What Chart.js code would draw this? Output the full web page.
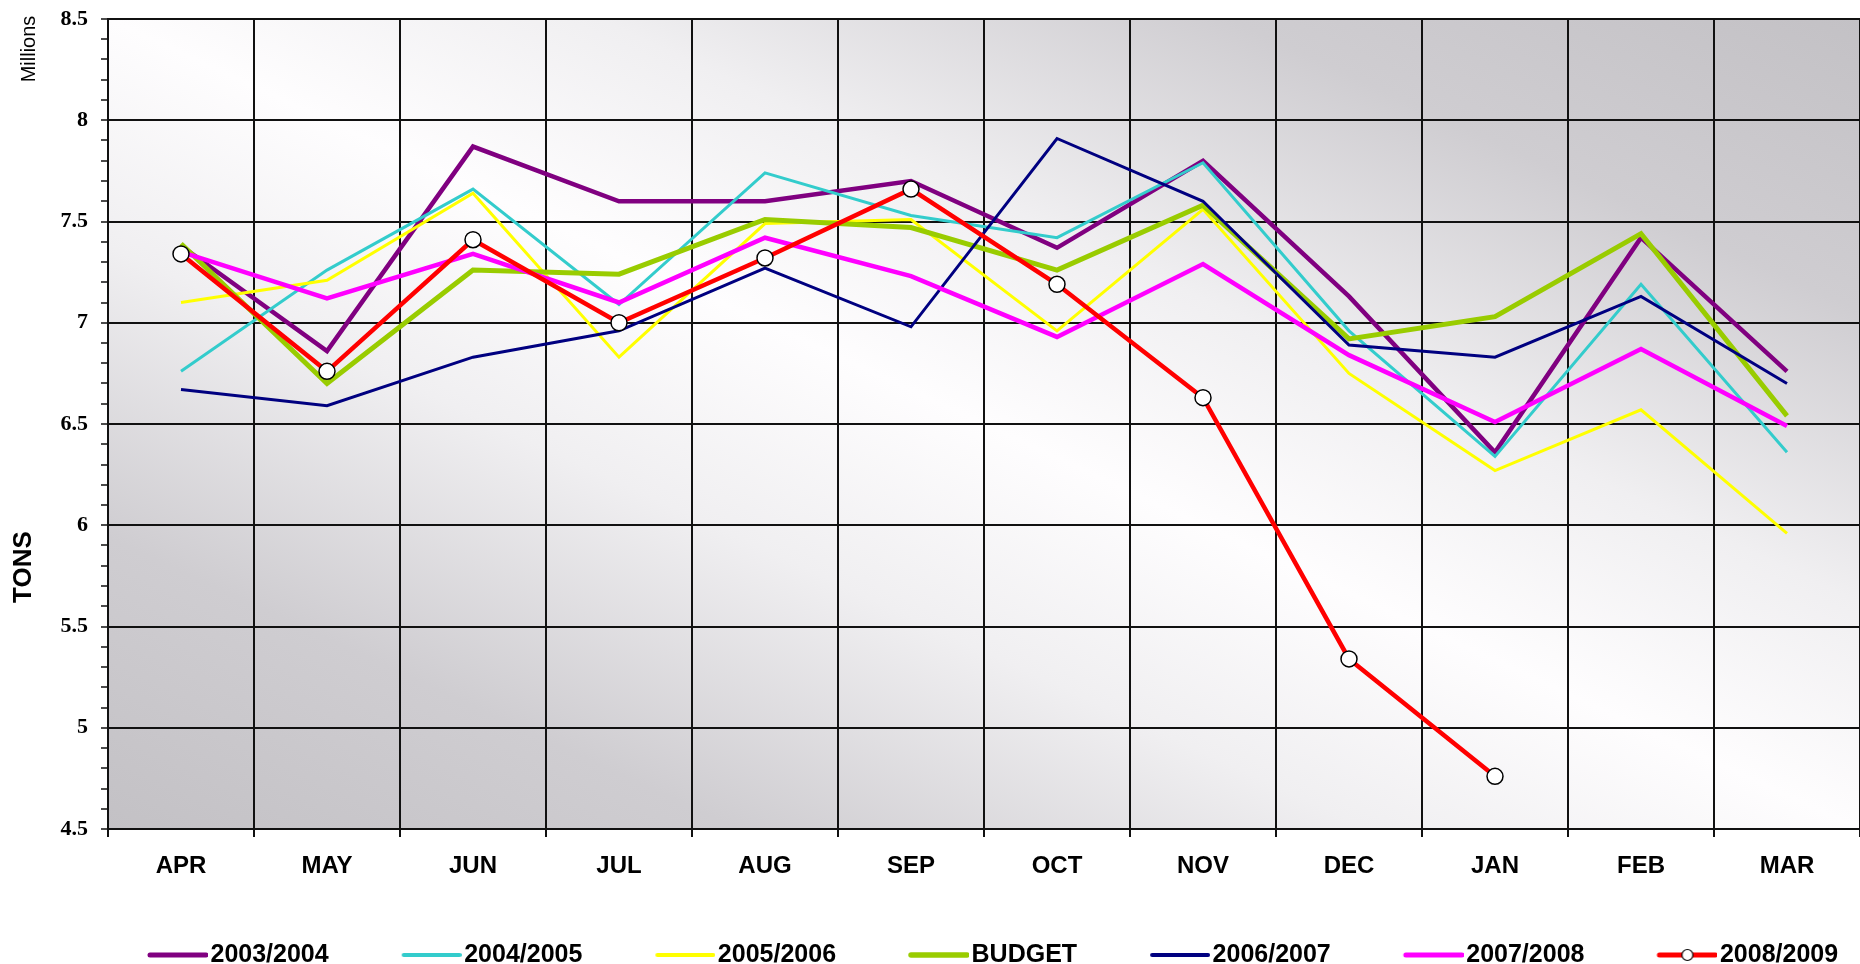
<!DOCTYPE html>
<html>
<head>
<meta charset="utf-8">
<title>Tons by month</title>
<script src="https://cdn.jsdelivr.net/npm/chart.js@4/dist/chart.umd.min.js"></script>
<style>
  html, body { margin: 0; padding: 0; background: #fff; overflow: hidden; }
  #chart { display: block; }
</style>
</head>
<body>
<canvas id="chart" width="1860" height="964"></canvas>
<script>
// months of the fiscal year (april -> march)
const months = ['APR', 'MAY', 'JUN', 'JUL', 'AUG', 'SEP', 'OCT', 'NOV', 'DEC', 'JAN', 'FEB', 'MAR'];

// series, millions of tons
const s2003 = [7.38, 6.86, 7.87, 7.60, 7.60, 7.70, 7.37, 7.80, 7.13, 6.36, 7.42, 6.76];
const s2004 = [6.76, 7.26, 7.66, 7.09, 7.74, 7.53, 7.42, 7.79, 6.96, 6.34, 7.19, 6.36];
const s2005 = [7.10, 7.21, 7.64, 6.83, 7.49, 7.51, 6.96, 7.56, 6.75, 6.27, 6.57, 5.96];
const budget = [7.39, 6.70, 7.26, 7.24, 7.51, 7.47, 7.26, 7.58, 6.92, 7.03, 7.44, 6.54];
const s2006 = [6.67, 6.59, 6.83, 6.96, 7.27, 6.98, 7.91, 7.60, 6.89, 6.83, 7.13, 6.70];
const s2007 = [7.35, 7.12, 7.34, 7.10, 7.42, 7.23, 6.93, 7.29, 6.84, 6.51, 6.87, 6.49];
const s2008 = [7.34, 6.76, 7.41, 7.00, 7.32, 7.66, 7.19, 6.63, 5.34, 4.76, null, null];

const seriesNames = ['2003/2004', '2004/2005', '2005/2006', 'BUDGET', '2006/2007', '2007/2008', '2008/2009'];
const yMin = 4.5, yMax = 8.5, yStep = 0.1, yLabelStep = 0.5;
const unitLabel = 'Millions';
const axisLabel = 'TONS';

const SANS = '"Liberation Sans", Arial, sans-serif';

(function(){
  const colors = ['#800080', '#33cccc', '#ffff00', '#99cc00', '#000080', '#ff00ff', '#ff0000'];
  const widths = [4.5, 3, 3, 5, 3, 4.5, 4.5];
  const values = [s2003, s2004, s2005, budget, s2006, s2007, s2008];

  // legend swatches: a short line (and the marker for the last series)
  function swatch(color, lw, marker) {
    const c = document.createElement('canvas');
    c.width = 87; c.height = 16;
    const g = c.getContext('2d');
    g.strokeStyle = color;
    g.lineWidth = lw;
    g.lineCap = 'round';
    g.beginPath();
    g.moveTo(29, 8); g.lineTo(85, 8);
    g.stroke();
    if (marker) {
      g.beginPath();
      g.arc(57, 8, 5.5, 0, Math.PI * 2);
      g.fillStyle = '#fff';
      g.fill();
      g.lineWidth = 1.2;
      g.strokeStyle = '#000';
      g.stroke();
    }
    return c;
  }
  const swatches = colors.map((c, i) => swatch(c, Math.max(widths[i] + 0.5, 4), i === 6));

  const datasets = values.map((v, i) => ({
    label: seriesNames[i],
    data: v,
    borderColor: colors[i],
    backgroundColor: colors[i],
    borderWidth: widths[i],
    tension: 0,
    fill: false,
    order: 6 - i,
    pointRadius: i === 6 ? 8 : 0,
    pointHoverRadius: i === 6 ? 8 : 0,
    pointBackgroundColor: '#fff',
    pointBorderColor: '#000',
    pointBorderWidth: 1.5
  }));

  const isLabelTick = v => Math.abs(v / yLabelStep - Math.round(v / yLabelStep)) < 1e-6;

  // diagonal grey-white-grey fill of the plot area
  const plotBg = {
    id: 'plotBg',
    beforeDraw(chart) {
      const {ctx, chartArea: a} = chart;
      ctx.save();
      ctx.translate(a.left, a.top);
      ctx.scale(a.right - a.left, a.bottom - a.top);
      const gr = ctx.createLinearGradient(0, 1, 1, 0);
      gr.addColorStop(0, '#c3c1c5');
      gr.addColorStop(0.18, '#cfcdd1');
      gr.addColorStop(0.36, '#f0eff1');
      gr.addColorStop(0.5, '#fefdfe');
      gr.addColorStop(0.64, '#f0eff1');
      gr.addColorStop(0.82, '#cfcdd1');
      gr.addColorStop(1, '#c3c1c5');
      ctx.fillStyle = gr;
      ctx.fillRect(0, 0, 1, 1);
      ctx.restore();
    }
  };

  // "Millions" and "TONS" on the left side
  const sideText = {
    id: 'sideText',
    afterDraw(chart) {
      const ctx = chart.ctx;
      ctx.save();
      ctx.fillStyle = '#000';
      ctx.textAlign = 'center';
      ctx.textBaseline = 'middle';
      ctx.save();
      ctx.translate(29, 49);
      ctx.rotate(-Math.PI / 2);
      ctx.font = '20px ' + SANS;
      ctx.fillText(unitLabel, 0, 0);
      ctx.restore();
      ctx.translate(24, 567);
      ctx.rotate(-Math.PI / 2);
      ctx.font = 'bold 26px ' + SANS;
      ctx.fillText(axisLabel, 0, 0);
      ctx.restore();
    }
  };

  // push the legend row down and a bit right
  const legendPlace = {
    id: 'legendPlace',
    afterLayout(chart) {
      const lg = chart.legend;
      if (!lg || !lg.lineWidths) return;
      const p = lg.options.labels.padding;
      const dy = 955 - (lg.top + p + 12.5);
      lg.top += dy; lg.bottom += dy;
      const x0 = (lg.left + p + lg.right - lg.lineWidths[0]) / 2;
      const dx = 131 - x0;
      lg.left += dx; lg.right += dx;
    }
  };

  const canvas = document.getElementById('chart');
  new Chart(canvas.getContext('2d'), {
    type: 'line',
    data: { labels: months, datasets: datasets },
    plugins: [plotBg, sideText, legendPlace],
    options: {
      responsive: false,
      animation: false,
      layout: { autoPadding: false, padding: { top: 19, left: 0, right: 0, bottom: -11 } },
      scales: {
        x: {
          offset: true,
          afterFit: s => { s.height = 55; s.paddingRight = 0; s.paddingLeft = 0; },
          grid: {
            offset: true,
            color: '#111',
            lineWidth: 2,
            tickColor: '#111',
            tickLength: 8
          },
          border: { color: '#111', width: 2 },
          ticks: {
            color: '#000',
            padding: 15,
            font: { family: SANS, size: 24, weight: 'bold' },
            maxRotation: 0,
            autoSkip: false
          }
        },
        y: {
          min: yMin,
          max: yMax,
          afterFit: s => { s.width = 108; s.paddingTop = 0; s.paddingBottom = 0; },
          grid: {
            color: c => isLabelTick(c.tick.value) ? '#111' : 'rgba(0,0,0,0)',
            lineWidth: 2,
            tickColor: '#111',
            tickWidth: 1.5,
            tickLength: 7
          },
          border: { color: '#111', width: 2 },
          ticks: {
            stepSize: yStep,
            autoSkip: false,
            color: '#000',
            padding: 13,
            font: { family: '"Liberation Serif", "Times New Roman", serif', size: 22, weight: 'bold' },
            callback: v => isLabelTick(v) ? String(Math.round(v * 10) / 10) : ''
          }
        }
      },
      plugins: {
        title: { display: false },
        tooltip: { enabled: false },
        legend: {
          position: 'bottom',
          labels: {
            usePointStyle: true,
            pointStyleWidth: 67,
            boxHeight: 12,
            padding: 56,
            color: '#000',
            font: { family: SANS, size: 25, weight: 'bold' },
            generateLabels: chart => chart.data.datasets.map((ds, i) => ({
              text: ds.label,
              pointStyle: swatches[i],
              fillStyle: ds.borderColor,
              strokeStyle: ds.borderColor,
              lineWidth: 0,
              hidden: false,
              datasetIndex: i,
              fontColor: '#000'
            }))
          }
        }
      }
    }
  });
})();
</script>
</body>
</html>
